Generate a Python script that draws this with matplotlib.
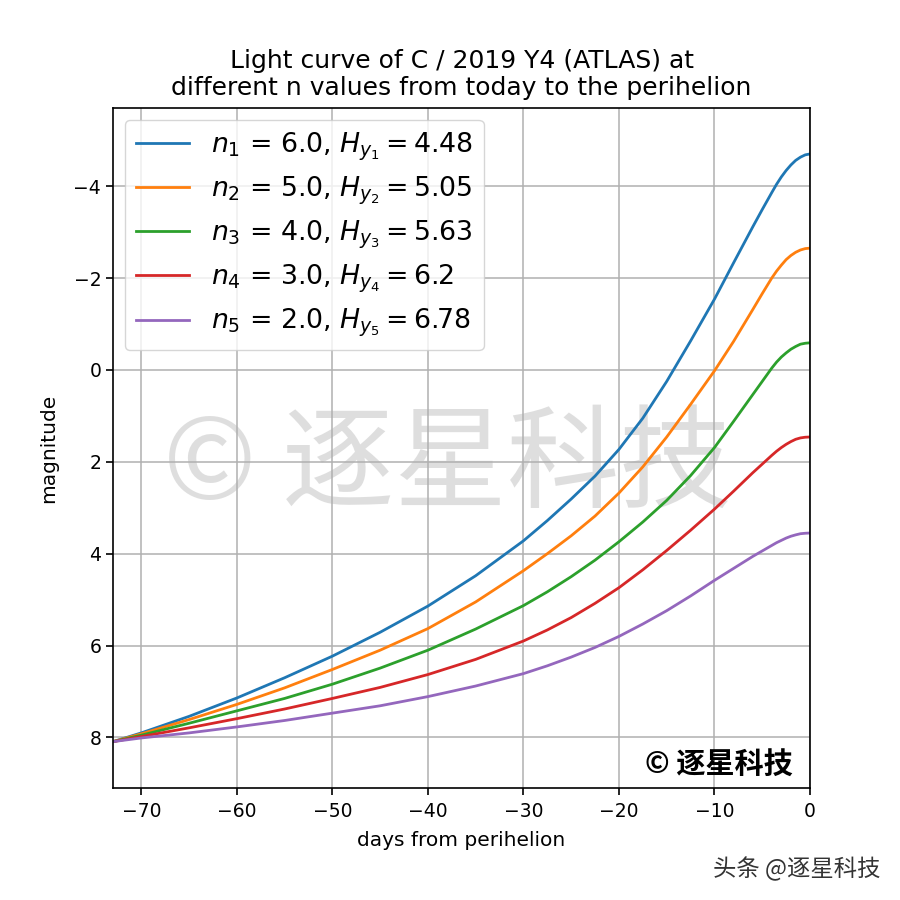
import matplotlib
matplotlib.use("Agg")
import matplotlib.pyplot as plt

plt.rcParams["font.family"] = ["DejaVu Sans", "Noto Sans CJK SC"]

# days from perihelion (sample points)
days = [-72.96, -70, -65, -60, -55, -50, -45, -40, -35, -30, -27.5, -25, -22.5, -20,
        -17.5, -15, -12.5, -10, -8, -6, -5, -4, -3.5, -3, -2.5, -2, -1.5, -1, -0.5, 0]

mag_n6 = [8.09, 7.90, 7.54, 7.14, 6.70, 6.23, 5.71, 5.14, 4.48, 3.72, 3.28, 2.81, 2.31, 1.73,
          1.05, 0.25, -0.63, -1.54, -2.33, -3.11, -3.49, -3.86, -4.04, -4.20, -4.34, -4.46,
          -4.56, -4.63, -4.68, -4.70]
mag_n5 = [8.09, 7.92, 7.61, 7.28, 6.92, 6.52, 6.10, 5.63, 5.05, 4.37, 4.00, 3.61, 3.18, 2.68,
          2.11, 1.46, 0.75, 0.02, -0.62, -1.31, -1.66, -2.00, -2.15, -2.28, -2.40, -2.49,
          -2.56, -2.61, -2.64, -2.65]
mag_n4 = [8.09, 7.95, 7.69, 7.42, 7.15, 6.84, 6.49, 6.10, 5.64, 5.13, 4.83, 4.50, 4.14, 3.74,
          3.31, 2.84, 2.30, 1.69, 1.12, 0.54, 0.25, -0.04, -0.17, -0.28, -0.37, -0.45,
          -0.51, -0.56, -0.58, -0.59]
mag_n3 = [8.09, 7.98, 7.79, 7.59, 7.38, 7.15, 6.91, 6.63, 6.30, 5.90, 5.66, 5.39, 5.08, 4.74,
          4.35, 3.93, 3.49, 3.03, 2.64, 2.24, 2.05, 1.86, 1.77, 1.69, 1.62, 1.56,
          1.51, 1.48, 1.465, 1.46]
mag_n2 = [8.09, 8.01, 7.90, 7.77, 7.63, 7.47, 7.31, 7.11, 6.88, 6.61, 6.44, 6.25, 6.04, 5.80,
          5.53, 5.24, 4.92, 4.58, 4.32, 4.06, 3.94, 3.82, 3.76, 3.71, 3.66, 3.62,
          3.59, 3.565, 3.555, 3.55]

n_values = [6.0, 5.0, 4.0, 3.0, 2.0]
h_values = ["4.48", "5.05", "5.63", "6.2", "6.78"]
series = [mag_n6, mag_n5, mag_n4, mag_n3, mag_n2]

fig = plt.figure(figsize=(9, 9), dpi=100)
ax = fig.add_axes([0.1256, 0.1244, 0.7744, 0.7556])

for i, (n, h, mags) in enumerate(zip(n_values, h_values, series)):
  k = i + 1
  label = rf"$n_{k}$ = {n:.1f}, $H_{{y_{k}}} = {h}$"
  ax.plot(days, mags, lw=2.0, label=label)

ax.set_xlim(-72.96, 0)
ax.set_ylim(9.1, -5.7)
ax.set_yticks([-4, -2, 0, 2, 4, 6, 8])
ax.grid(True, color="#b0b0b0", lw=1.1)
ax.tick_params(labelsize=13.5, length=5, width=1.2)
ax.tick_params(axis="x", pad=5)
for s in ax.spines.values():
  s.set_linewidth(1.2)

ax.set_xlabel("days from perihelion", fontsize=14.5, labelpad=7)
ax.set_ylabel("magnitude", fontsize=14.5, labelpad=11)
ax.set_title("Light curve of C / 2019 Y4 (ATLAS) at\ndifferent n values from today to the perihelion",
             fontsize=18, pad=9)

ax.legend(loc="upper left", fontsize=19.3, framealpha=0.8, labelspacing=0.44,
          borderaxespad=0.45, handlelength=2.0)

# watermarks
ax.text(0.48, 0.472, "© 逐星科技", transform=ax.transAxes, ha="center", va="center",
        fontsize=81, color="#d9d9d9", alpha=0.85, zorder=0,
        family=["Noto Sans CJK SC", "DejaVu Sans"], fontweight="light")
ax.text(0.975, 0.012, "© 逐星科技", transform=ax.transAxes, ha="right", va="bottom",
        fontsize=21, color="black", family=["Noto Sans CJK SC", "DejaVu Sans"],
        fontweight="bold")
fig.text(0.978, 0.034, "头条 @逐星科技", ha="right", va="center", fontsize=16.8,
         color="#333333", family=["Noto Sans CJK SC", "DejaVu Sans"])

fig.savefig("out.png", dpi=100)
